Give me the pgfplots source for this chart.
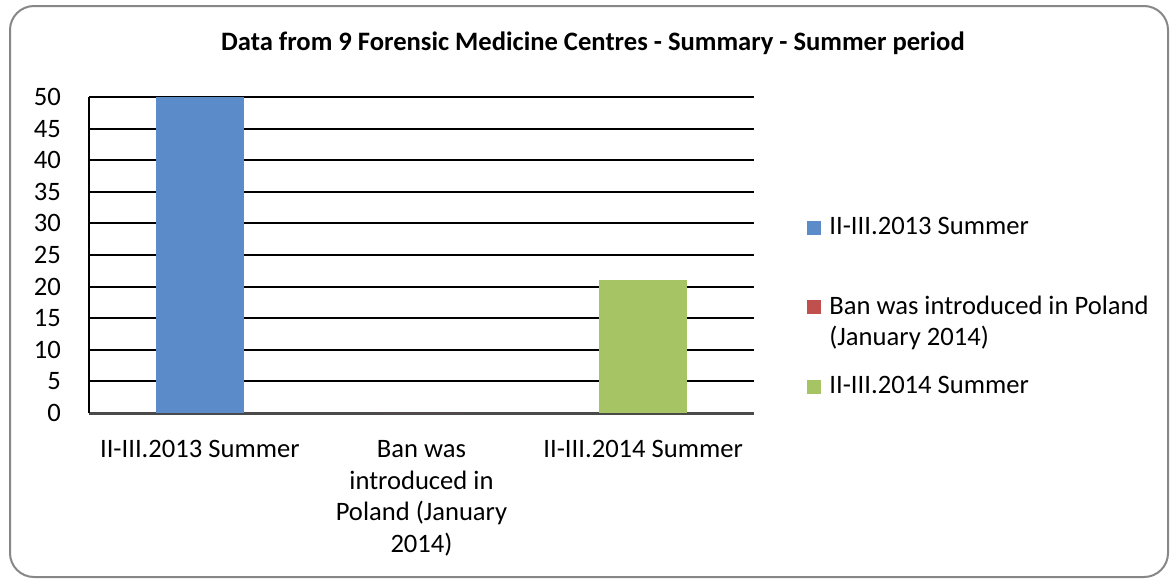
\documentclass[border=0pt]{standalone}
\usepackage{fontspec}
\setmainfont{Carlito}
\usepackage{pgfplots}
\pgfplotsset{compat=1.18}
\definecolor{cblue}{HTML}{5B8BC8}
\definecolor{cred}{HTML}{C0504D}
\definecolor{cgreen}{HTML}{A6C464}
\definecolor{frame}{HTML}{878787}
\definecolor{baseline}{HTML}{4A4A4A}
\newcommand{\cfont}{\fontsize{13.3}{15.75}\selectfont}
\begin{document}
\cfont
\begin{tikzpicture}
\begin{scope}[x=0.5pt,y=-0.5pt]
\path[use as bounding box] (0,0) rectangle (1170,579);
\draw[frame, line width=1pt, rounded corners=12pt] (10,6) rectangle (1168,577);
\node[anchor=base, font=\cfont\bfseries] at (593,50.7) {Data from 9 Forensic Medicine Centres - Summary - Summer period};
\end{scope}
\begin{axis}[
  at={(44.5pt,-206.5pt)}, anchor=south west,
  scale only axis, width=332.5pt, height=158pt,
  xmin=-0.5, xmax=2.5, ymin=0, ymax=50,
  xtick={0,1,2},
  xticklabels={{II-III.2013 Summer},{Ban was\\introduced in\\Poland (January\\2014)},{II-III.2014 Summer}},
  ytick={0,5,...,50},
  major tick length=0pt,
  font=\cfont,
  /pgf/number format/assume math mode=true,
  yticklabel style={xshift=-9.5pt},
  xticklabel style={align=center, yshift=-9.2pt},
  separate axis lines,
  axis x line*=bottom, axis y line*=left,
  x axis line style={-, draw=baseline, line width=1.5pt},
  y axis line style={-, draw=black, line width=1pt},
  ymajorgrids, grid style={black, line width=1pt},
  legend image code/.code={\fill[#1] (0pt,0pt) rectangle (7pt,7pt);},
  legend style={at={(1.0797,0.620)}, anchor=north west, draw=none, fill=none,
    inner sep=0pt, row sep={39.75pt,between origins}, column sep=4pt,
    nodes={inner sep=0pt, anchor=base west},
    font=\cfont},
  legend cell align=left,
]
\addplot[ybar, bar width=0.397, bar shift=0pt, fill=cblue, draw=none] coordinates {(0,50)};
\addlegendentry{II-III.2013 Summer}
\addplot[ybar, bar width=0.397, bar shift=0pt, fill=cred, draw=none] coordinates {(1,0)};
\addlegendentry{\begin{tabular}[t]{@{}l@{}}Ban was introduced in Poland\\(January 2014)\end{tabular}}
\addplot[ybar, bar width=0.397, bar shift=0pt, fill=cgreen, draw=none] coordinates {(2,21)};
\addlegendentry{II-III.2014 Summer}
\end{axis}
\end{tikzpicture}
\end{document}
